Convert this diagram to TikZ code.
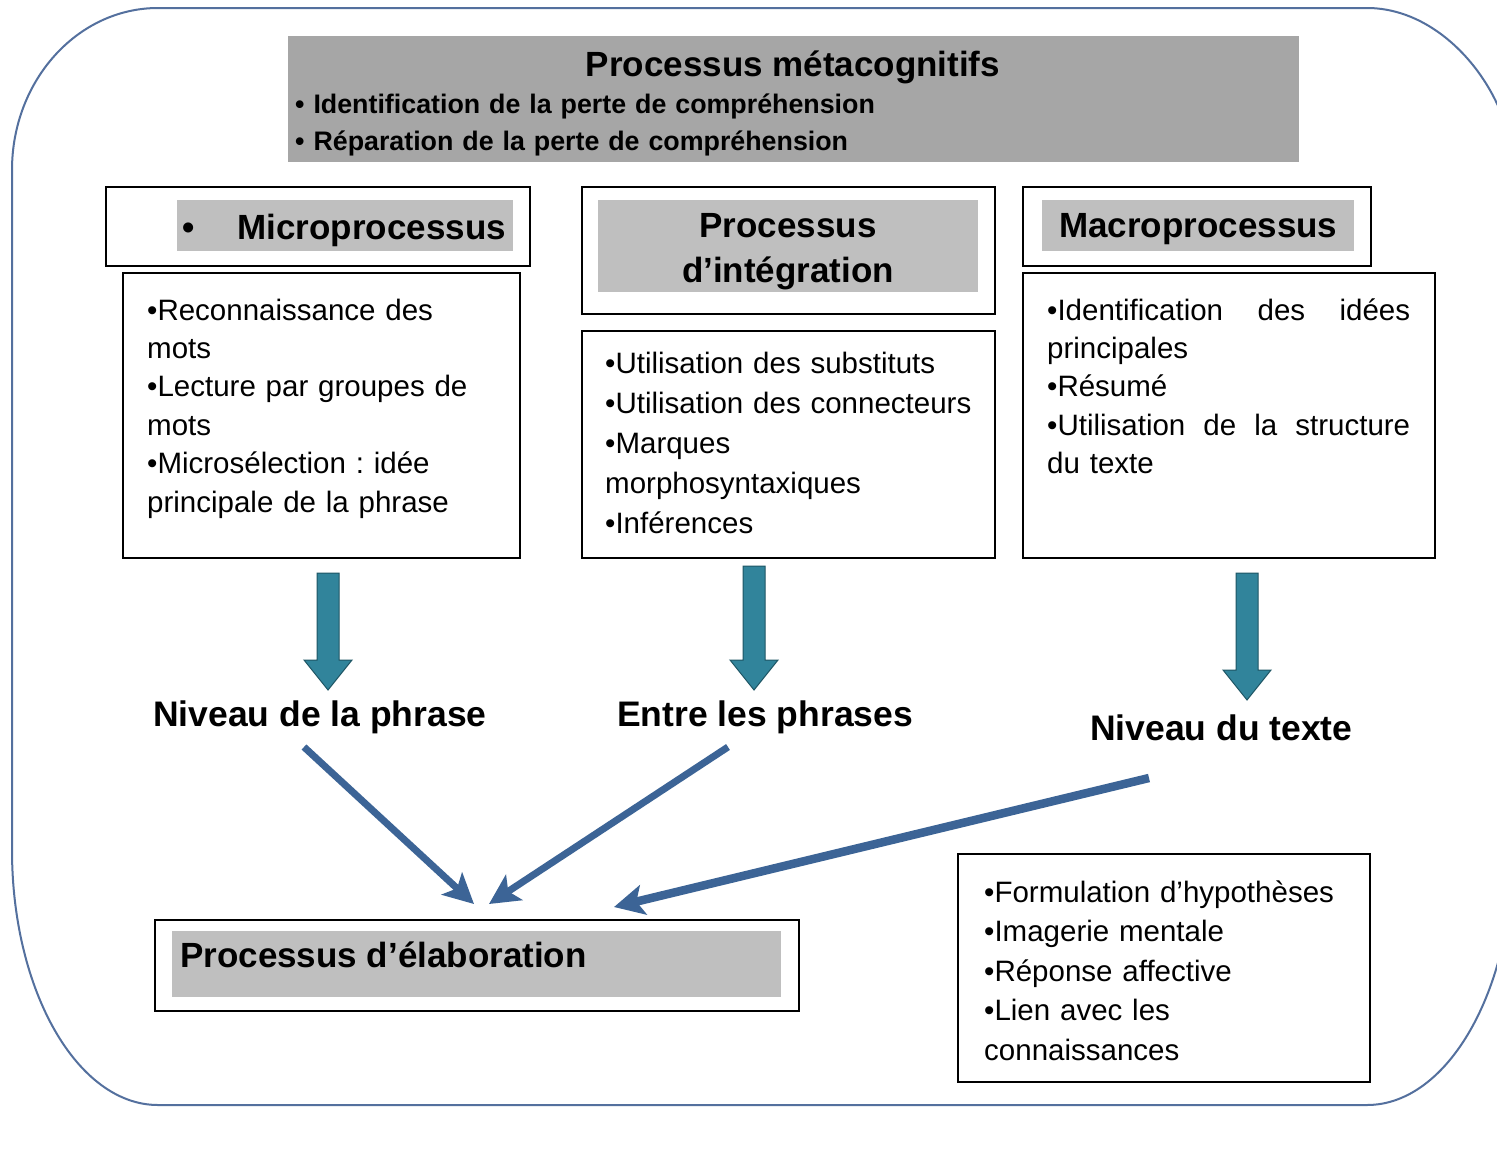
\documentclass[tikz,border=0pt]{standalone}
\usepackage{fontspec}
\setmainfont{Liberation Sans}
\usetikzlibrary{arrows.meta,calc,fit}
\frenchspacing
\definecolor{outerc}{RGB}{84,112,158}
\definecolor{metagray}{RGB}{166,166,166}
\definecolor{headgray}{RGB}{191,191,191}
\definecolor{tealc}{RGB}{49,132,155}
\definecolor{tealdark}{RGB}{30,85,100}
\definecolor{bluec}{RGB}{60,100,150}
\newcommand\tealarrow[2]{%
  \draw[tealarr] let \p1=(#1), \p2=(#2) in
    (\x1-11pt,\y1) -- (\x1+11pt,\y1) -- (\x1+11pt,\y2+30pt) -- (\x1+24pt,\y2+30pt)
    -- (\x1,\y2) -- (\x1-24pt,\y2+30pt) -- (\x1-11pt,\y2+30pt) -- cycle;}
\begin{document}
\begin{tikzpicture}[x=1pt,y=-1pt,
  box/.style={draw=black,line width=2.4pt,inner sep=0pt},
  fillbox/.style={fill=headgray,draw=none,inner sep=0pt},
  body/.style={inner sep=0pt,anchor=base west,align=left,font=\frenchspacing\fontsize{29.5}{38.4}\selectfont},
  head/.style={inner sep=0pt,font=\bfseries\fontsize{35}{45}\selectfont},
  diag/.style={draw=bluec,line width=7pt,-{Stealth[length=30pt,width=30pt,inset=7pt]}},
  tealarr/.style={fill=tealc,draw=tealdark,line width=1pt}]
\useasboundingbox (0,0) rectangle (1497,1165);
\fill[white] (0,0) rectangle (1497,1165);
% outer rounded frame
\draw[outerc,line width=2pt]
  (12,170) .. controls (12,80.6) and (77.4,8) .. (158,8)
  -- (1367,8) .. controls (1447.6,8) and (1513,97.4) .. (1513,170)
  -- (1513,850) .. controls (1513,990.8) and (1447.6,1105) .. (1367,1105)
  -- (158,1105) .. controls (77.4,1105) and (12,990.8) .. (12,850) -- cycle;
% metacognitive block
\node[fill=metagray,inner sep=0pt,fit={(288,36) (1299,162)}] (meta) {};
\node[head,anchor=base] (metat) at (793,76) {Processus métacognitifs};
\node[inner sep=0pt,anchor=base west,align=left,text width=900pt,
  font=\bfseries\fontsize{26.8}{37}\selectfont] (metab) at (295,113)
  {• Identification de la perte de compréhension\\• Réparation de la perte de compréhension};
% micro
\node[box,fit={(106,187) (530,266)}] (mhead) {};
\node[fillbox,fit={(177,200) (513,251)}] (mhfill) {};
\node[head,anchor=base west] (mht) at (182,239) {•\hspace{43pt}Microprocessus};
\node[box,fit={(123,273) (520,558)}] (mcont) {};
\node[body,text width=370pt] (mtxt) at (147,320)
  {•Reconnaissance des\\mots\\•Lecture par groupes de\\mots\\•Microsélection : idée\\principale de la phrase};
% integration
\node[box,fit={(582,187) (995,314)}] (ihead) {};
\node[fillbox,fit={(598,200) (978,292)}] (ihfill) {};
\node[head,anchor=base,align=center,text width=380pt] (iht) at (788,237) {Processus\\d’intégration};
\node[box,fit={(582,331) (995,558)}] (icont) {};
\node[body,text width=385pt,font=\fontsize{29.5}{40}\selectfont] (itxt) at (605,373)
  {•Utilisation des substituts\\•Utilisation des connecteurs\\•Marques\\morphosyntaxiques\\•Inférences};
% macro
\node[box,fit={(1023,187) (1371,266)}] (ahead) {};
\node[fillbox,fit={(1042,200) (1354,251)}] (ahfill) {};
\node[head,anchor=base west] (aht) at (1059,237) {Macroprocessus};
\node[box,fit={(1023,273) (1435,558)}] (acont) {};
\node[body,text width=375pt] (atxt) at (1047,320)
  {\makebox[363pt][l]{•Identification\hfill des\hfill idées}\\principales\\•Résumé\\\makebox[363pt][l]{•Utilisation\hfill de\hfill la\hfill structure}\\du texte};
% down arrows
\coordinate (d1s) at (328,573); \coordinate (d1e) at (328,690);
\coordinate (d2s) at (754,566); \coordinate (d2e) at (754,690);
\coordinate (d3s) at (1247,573); \coordinate (d3e) at (1247,700);
\tealarrow{d1s}{d1e}
\tealarrow{d2s}{d2e}
\tealarrow{d3s}{d3e}
% level labels
\node[inner sep=0pt,anchor=base west,font=\bfseries\fontsize{35.5}{40}\selectfont] (lv1) at (153,726) {Niveau de la phrase};
\node[inner sep=0pt,anchor=base west,font=\bfseries\fontsize{35.5}{40}\selectfont] (lv2) at (617,726) {Entre les phrases};
\node[inner sep=0pt,anchor=base west,font=\bfseries\fontsize{35.5}{40}\selectfont] (lv3) at (1090,740) {Niveau du texte};
% elaboration
\node[box,fit={(155,920) (799,1011)}] (elab) {};
\node[fillbox,fit={(172,931) (781,997)}] (elabfill) {};
\node[head,anchor=base west] (elabt) at (180,967) {Processus d’élaboration};
% diagonal arrows
\coordinate (a1s) at (304,747); \coordinate (a1e) at (474,904);
\coordinate (a2s) at (728,747); \coordinate (a2e) at (489,904);
\coordinate (a3s) at (1149,778); \coordinate (a3e) at (614,907);
\draw[diag] (a1s) -- (a1e);
\draw[diag] (a2s) -- (a2e);
\draw[diag,line width=8.5pt] (a3s) -- (a3e);
% right bottom box
\node[box,fit={(958,854) (1370,1082)}] (rbox) {};
\node[body,text width=380pt,font=\fontsize{29.5}{39.5}\selectfont] (rtxt) at (984,902)
  {•Formulation d’hypothèses\\•Imagerie mentale\\•Réponse affective\\•Lien avec les\\connaissances};
\end{tikzpicture}
\end{document}
